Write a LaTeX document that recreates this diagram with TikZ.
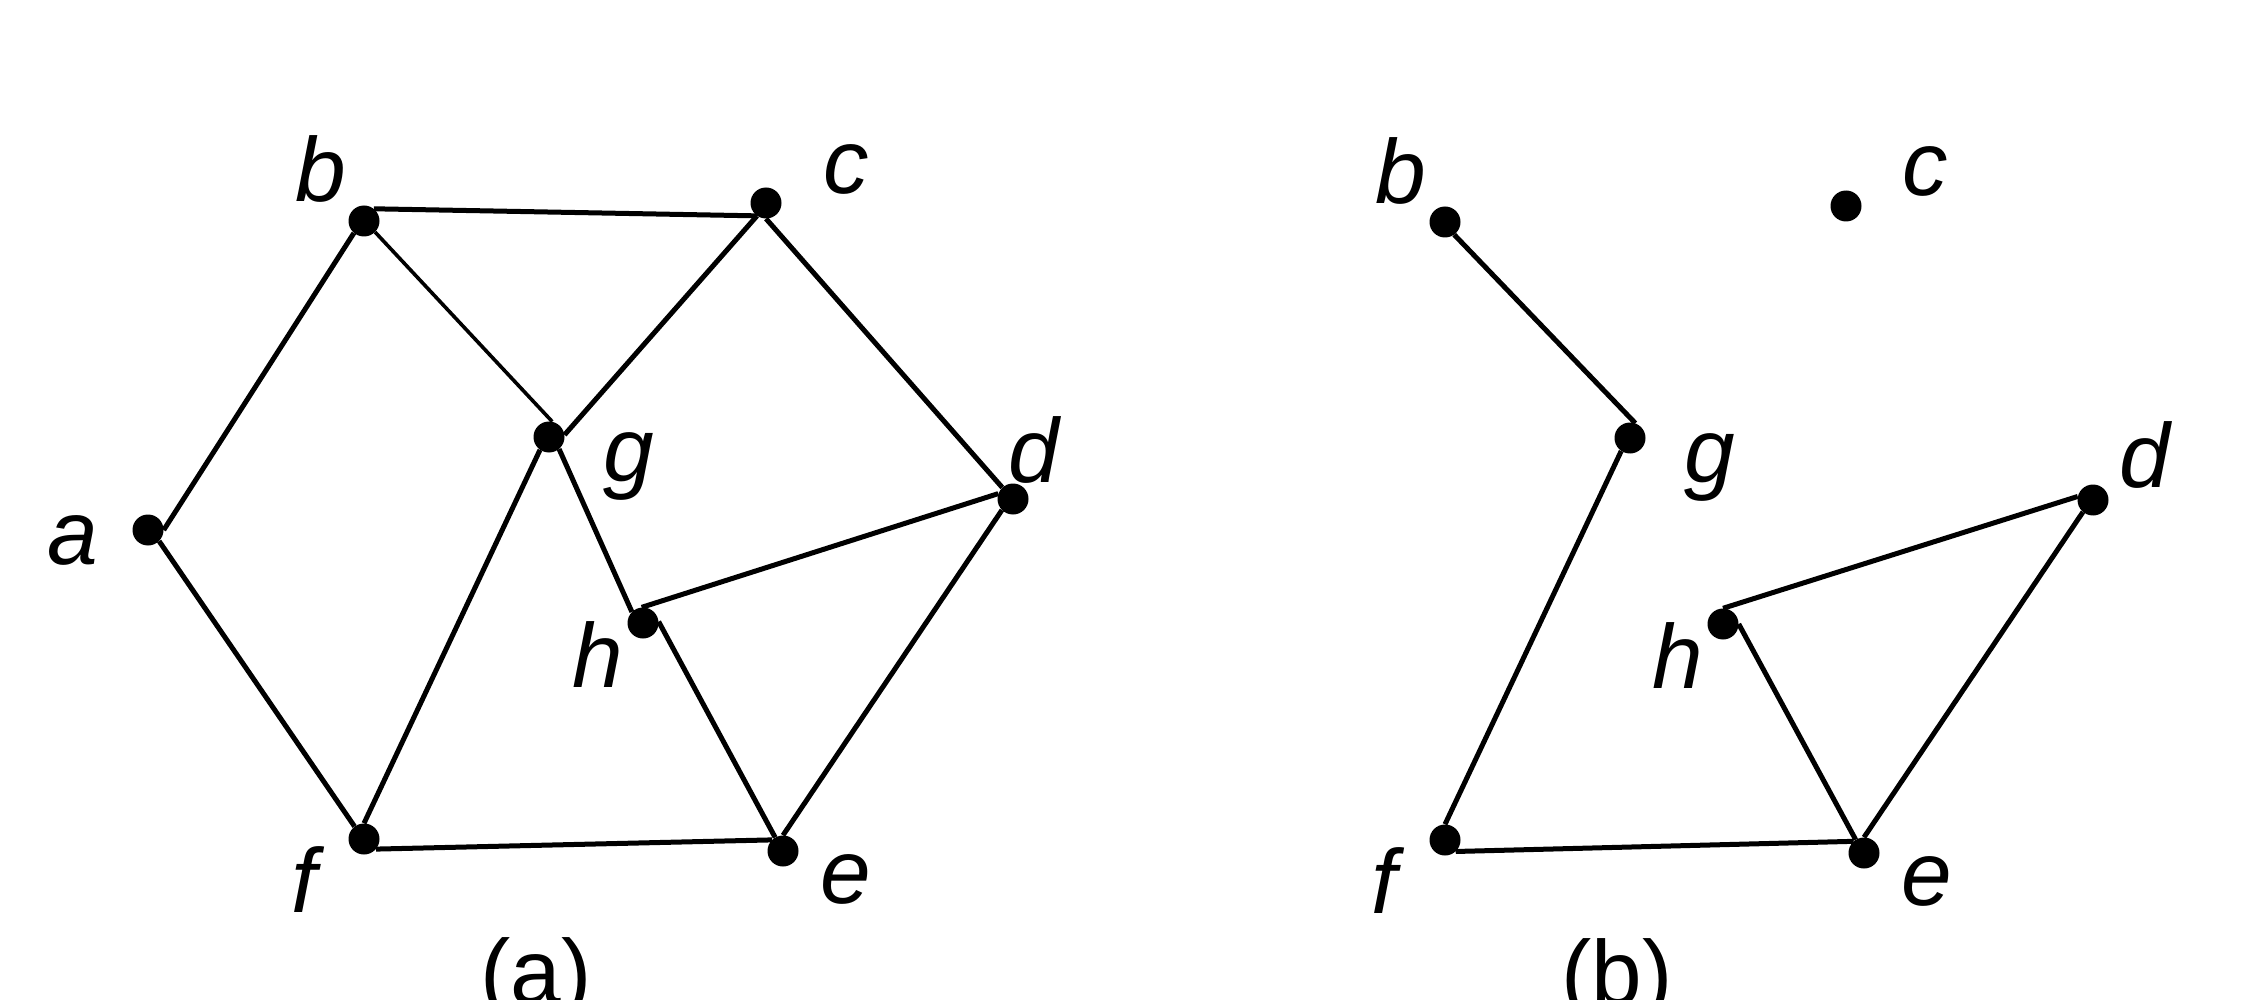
\documentclass[tikz,border=0pt]{standalone}
\usepackage{fontspec}
\setmainfont{Liberation Sans}
\begin{document}
\begin{tikzpicture}[x=1pt,y=-1pt,
  dot/.style={circle,fill=black,inner sep=0pt,minimum size=31pt},
  edge/.style={line width=5pt,black},
  thinedge/.style={line width=3.6pt,black},
  lbl/.style={anchor=base,inner sep=0pt,font=\fontsize{91}{100}\selectfont\itshape},
  captxt/.style={anchor=base,inner sep=0pt,font=\fontsize{91}{100}\selectfont}]
\clip (0,0) rectangle (2244,1000);
\fill[white] (0,0) rectangle (2244,1000);
% ---------- graph (a) ----------
\node[dot] (a1) at (148,530) {};
\node[dot] (b1) at (364,221) {};
\node[dot] (c1) at (766,203) {};
\node[dot] (g1) at (549,437) {};
\node[dot] (d1) at (1013,499) {};
\node[dot] (h1) at (643,623) {};
\node[dot] (f1) at (364,839) {};
\node[dot] (e1) at (783,851) {};
\draw[edge] (a1.0) -- (b1.-130);
\draw[edge] (a1.-45) -- (f1.127);
\draw[edge] (b1.51) -- (c1.235);
\draw[thinedge] (b1.-45) -- (g1.78);
\draw[edge] (c1.-125) -- (g1.8);
\draw[edge] (c1.-90) -- (d1.133);
\draw[edge] (g1.-125) -- (f1.90);
\draw[edge] (g1.-50) -- (h1.135);
\draw[edge] (h1.95) -- (d1.160);
\draw[edge] (h1.5) -- (e1.120);
\draw[edge] (d1.-135) -- (e1.90);
\draw[edge] (f1.-40) -- (e1.135);
\node[lbl] (la1) at (73,564) {a};
\node[lbl] (lb1) at (321,202) {b};
\node[lbl] (lc1) at (846,194) {c};
\node[lbl] (lg1) at (629,481) {g};
\node[lbl] (ld1) at (1034,482) {d};
\node[lbl] (lh1) at (598,687) {h};
\node[lbl] (lf1) at (304,912) {f};
\node[lbl] (le1) at (846,903) {e};
\node[captxt] (capa) at (536,1003) {(a)};
% ---------- graph (b) ----------
\node[dot] (b2) at (1445,222) {};
\node[dot] (c2) at (1846,206) {};
\node[dot] (g2) at (1630,438) {};
\node[dot] (d2) at (2093,500) {};
\node[dot] (h2) at (1723,624) {};
\node[dot] (f2) at (1445,840) {};
\node[dot] (e2) at (1864,853) {};
\draw[edge] (b2.-54) -- (g2.70);
\draw[edge] (g2.-124) -- (f2.90);
\draw[edge] (f2.-47) -- (e2.132);
\draw[edge] (h2.90) -- (d2.167);
\draw[edge] (h2.0) -- (e2.122);
\draw[edge] (d2.-130) -- (e2.90);
\node[lbl] (lb2) at (1401,204) {b};
\node[lbl] (lc2) at (1925,196) {c};
\node[lbl] (lg2) at (1710,482) {g};
\node[lbl] (ld2) at (2145,487) {d};
\node[lbl] (lh2) at (1678,688) {h};
\node[lbl] (lf2) at (1384,913) {f};
\node[lbl] (le2) at (1927,905) {e};
\node[captxt] (capb) at (1617,1004) {(b)};
\end{tikzpicture}
\end{document}
